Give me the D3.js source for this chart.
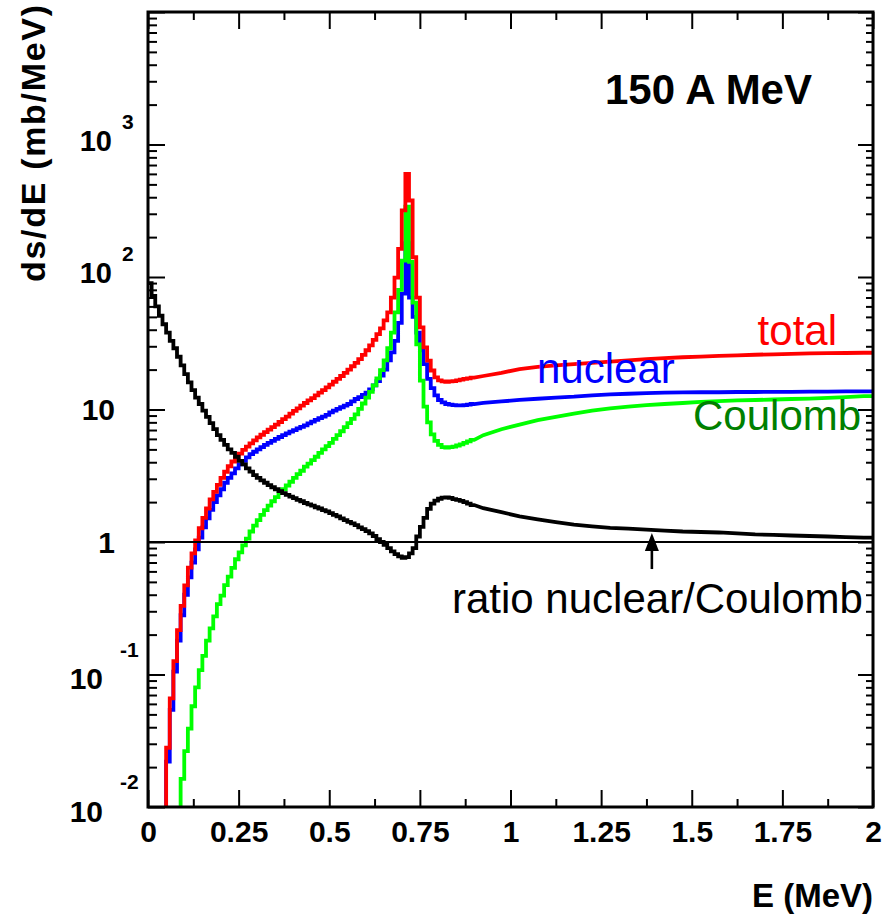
<!DOCTYPE html>
<html>
<head>
<meta charset="utf-8">
<script src="https://cdn.jsdelivr.net/npm/d3@7"></script>
<style>
  body { margin: 0; background: #fff; }
  svg text { font-family: "Liberation Sans", Arial, Helvetica, sans-serif; }
</style>
</head>
<body>
<div id="plot"></div>
<script>
// bin low edges (MeV): 0.01 wide up to 0.9, 0.05 wide above, last edge = 2
const edges = d3.range(0, 90).map(i => i / 100).concat(d3.range(18, 41).map(i => i / 20));
const nFine = 90; // bins drawn as steps, the rest as a smooth line

// ds/dE in mb/MeV, one value per bin (0 = empty bin)
const total = [
  0, 0, 0, 0, 0, 0.028, 0.066, 0.126, 0.216, 0.33,
  0.47, 0.64, 0.82, 1.03, 1.27, 1.52, 1.79, 2.1, 2.39, 2.7,
  3.05, 3.39, 3.73, 4.05, 4.35, 4.65, 4.95, 5.25, 5.55, 5.85,
  6.15, 6.45, 6.75, 7.05, 7.35, 7.7, 8.05, 8.45, 8.85, 9.3,
  9.75, 10.2, 10.7, 11.2, 11.7, 12.2, 12.8, 13.4, 14.0, 14.7,
  15.4, 16.2, 17.0, 17.9, 18.9, 20.0, 21.2, 22.5, 24.0, 25.8,
  28.0, 30.5, 33.5, 37, 41, 47, 54, 70, 99, 163,
  318, 600, 378, 141, 70, 41.7, 29.4, 23.4, 19.7, 17.5,
  16.6, 16.3, 16.2, 16.3, 16.4, 16.6, 16.8, 17.0, 17.2, 17.4,
  17.9, 18.9, 20.2, 21.0, 21.5, 22.0, 22.5, 23.0, 23.5, 24.0,
  24.4, 24.8, 25.1, 25.4, 25.6, 25.9, 26.1, 26.3, 26.5, 26.6,
  26.7, 26.8
];
const nuclear = [
  0, 0, 0, 0, 0, 0.022, 0.054, 0.105, 0.18, 0.28,
  0.40, 0.54, 0.70, 0.88, 1.08, 1.29, 1.51, 1.75, 2.0, 2.25,
  2.5, 2.8, 3.05, 3.3, 3.6, 3.85, 4.1, 4.35, 4.6, 4.8,
  5.0, 5.2, 5.4, 5.6, 5.8, 6.0, 6.2, 6.4, 6.6, 6.8,
  7.0, 7.2, 7.4, 7.6, 7.85, 8.1, 8.35, 8.6, 8.85, 9.1,
  9.5, 9.8, 10.1, 10.4, 10.7, 11.0, 11.5, 12.0, 12.4, 12.9,
  13.4, 14.2, 15.2, 16.4, 18, 20, 23.5, 27, 33, 45,
  75, 180, 70, 50, 38, 28, 22, 17, 14.5, 12.8,
  11.8, 11.3, 11.0, 10.9, 10.8, 10.75, 10.75, 10.8, 10.9, 11.0,
  11.2, 11.5, 11.8, 12.05, 12.3, 12.5, 12.8, 13.0, 13.15, 13.3,
  13.4, 13.45, 13.5, 13.5, 13.55, 13.55, 13.6, 13.6, 13.65, 13.65,
  13.7, 13.7
];
const coulomb = [
  0, 0, 0, 0, 0, 0, 0, 0, 0, 0.0163,
  0.0264, 0.039, 0.0576, 0.080, 0.108, 0.138, 0.18, 0.223, 0.275, 0.34,
  0.394, 0.472, 0.548, 0.637, 0.741, 0.836, 0.942, 1.06, 1.2, 1.33,
  1.46, 1.6, 1.74, 1.88, 2.03, 2.18, 2.34, 2.5, 2.67, 2.85,
  3.05, 3.25, 3.45, 3.7, 3.9, 4.15, 4.4, 4.7, 5.0, 5.3,
  5.6, 6.0, 6.4, 6.85, 7.35, 7.9, 8.5, 9.2, 10.1, 11.1,
  12.3, 13.6, 15.2, 17.2, 19.8, 23.5, 29, 38, 54, 80,
  133, 340, 130, 64, 31, 16.5, 10.5, 8, 6.5, 5.8,
  5.4, 5.2, 5.15, 5.2, 5.25, 5.35, 5.45, 5.6, 5.75, 5.9,
  6.4, 7.1, 7.7, 8.3, 8.8, 9.3, 9.8, 10.2, 10.5, 10.8,
  11.0, 11.2, 11.4, 11.55, 11.7, 11.8, 11.9, 12.0, 12.1, 12.25,
  12.4, 12.6
];
const ratio = [
  90, 72, 60, 51, 44, 38, 33, 29, 25, 21.5,
  18.5, 16, 14, 12.3, 11, 9.8, 8.8, 7.9, 7.1, 6.4,
  5.9, 5.4, 5.0, 4.7, 4.4, 4.1, 3.85, 3.6, 3.4, 3.2,
  3.05, 2.92, 2.8, 2.69, 2.59, 2.5, 2.42, 2.34, 2.27, 2.2,
  2.14, 2.08, 2.03, 1.97, 1.92, 1.88, 1.83, 1.79, 1.74, 1.7,
  1.65, 1.6, 1.56, 1.51, 1.46, 1.42, 1.38, 1.34, 1.29, 1.25,
  1.21, 1.16, 1.11, 1.05, 1.0, 0.95, 0.9, 0.85, 0.81, 0.78,
  0.76, 0.77, 0.82, 0.9, 1.1, 1.3, 1.52, 1.78, 1.95, 2.05,
  2.12, 2.16, 2.17, 2.15, 2.11, 2.08, 2.04, 2.0, 1.95, 1.9,
  1.8, 1.68, 1.56, 1.48, 1.41, 1.35, 1.31, 1.28, 1.26, 1.24,
  1.22, 1.2, 1.19, 1.18, 1.16, 1.14, 1.13, 1.12, 1.11, 1.1,
  1.09, 1.08
];

// axis ticks
const xMajor = [0, 0.25, 0.5, 0.75, 1, 1.25, 1.5, 1.75, 2];
const xLabels = ["0", "0.25", "0.5", "0.75", "1", "1.25", "1.5", "1.75", "2"];
const xMinor = [0.125, 0.375, 0.625, 0.875, 1.125, 1.375, 1.625, 1.875];
const yMajor = [1e-2, 1e-1, 1, 10, 100, 1000, 1e4];
const yLabels = [
  { v: 1e-2, base: "10", exp: "-2" },
  { v: 1e-1, base: "10", exp: "-1" },
  { v: 1, base: "1", exp: "" },
  { v: 10, base: "10", exp: "" },
  { v: 100, base: "10", exp: "2" },
  { v: 1000, base: "10", exp: "3" }
];

// arrow pointing at the ratio curve
const arrowE = 1.39, arrowTip = 1.17, arrowTail = 0.625;

const width = 895, height = 919;
const margin = { top: 12, right: 22, bottom: 112, left: 148 };
const W = width - margin.left - margin.right;
const H = height - margin.top - margin.bottom;

const svg = d3.select("#plot").append("svg")
  .attr("width", width)
  .attr("height", height);

svg.append("rect").attr("width", width).attr("height", height).attr("fill", "#fff");

const g = svg.append("g")
  .attr("transform", "translate(" + margin.left + "," + margin.top + ")");

const x = d3.scaleLinear().domain([0, 2]).range([0, W]);
const y = d3.scaleLog().domain([1e-2, 1e4]).range([H, 0]);

const yMinor = [];
for (let k = -2; k < 4; k++) for (let m = 2; m <= 9; m++) yMinor.push(m * Math.pow(10, k));

g.append("clipPath").attr("id", "clip")
  .append("rect").attr("width", W).attr("height", H);

// fine bins as histogram steps, wide tail bins through their centres
const stepLine = d3.line()
  .curve(d3.curveStepAfter)
  .x(d => x(d[0]))
  .y(d => y(Math.max(d[1], 1e-4)));
const smoothLine = d3.line()
  .x(d => x(d[0]))
  .y(d => y(d[1]));

function stepPoints(vals) {
  const p = vals.slice(0, nFine).map((v, i) => [edges[i], v]);
  p.push([edges[nFine], vals[nFine - 1]]);
  return p;
}
function tailPoints(vals) {
  const p = [[edges[nFine], vals[nFine - 1]]];
  for (let i = nFine; i < vals.length; i++) p.push([(edges[i] + edges[i + 1]) / 2, vals[i]]);
  p.push([edges[vals.length], vals[vals.length - 1]]);
  return p;
}

const curves = g.append("g").attr("clip-path", "url(#clip)");
[[nuclear, "#0000ff"], [coulomb, "#00ff00"], [total, "#ff0000"], [ratio, "#000000"]].forEach(s => {
  curves.append("path")
    .attr("d", stepLine(stepPoints(s[0])) + smoothLine(tailPoints(s[0])).replace(/^M/, "L"))
    .attr("fill", "none")
    .attr("stroke", s[1])
    .attr("stroke-width", 3.8)
    .attr("stroke-linejoin", "miter");
});

// reference line at 1
g.append("line")
  .attr("x1", 0).attr("x2", W)
  .attr("y1", y(1)).attr("y2", y(1))
  .attr("stroke", "#000").attr("stroke-width", 2.2);

// arrow
const ax = x(arrowE), tipY = y(arrowTip);
g.append("line")
  .attr("x1", ax).attr("x2", ax)
  .attr("y1", y(arrowTail)).attr("y2", tipY + 14)
  .attr("stroke", "#000").attr("stroke-width", 2.6);
g.append("path")
  .attr("d", "M" + ax + "," + tipY + "L" + (ax - 7) + "," + (tipY + 18) + "L" + (ax + 7) + "," + (tipY + 18) + "Z")
  .attr("fill", "#000");

// axes: ticks on all four sides, pointing inwards
function styleAxis(sel) {
  sel.select(".domain").remove();
  sel.selectAll(".tick line").attr("stroke", "#000").attr("stroke-width", 2);
}

g.append("g").attr("transform", "translate(0," + H + ")")
  .call(d3.axisBottom(x).tickValues(xMajor).tickSize(-17).tickPadding(14)
    .tickFormat((d, i) => xLabels[i]))
  .call(styleAxis)
  .selectAll("text")
  .attr("fill", "#000")
  .style("font-size", "30px")
  .style("font-weight", "bold");
g.append("g").attr("transform", "translate(0," + H + ")")
  .call(d3.axisBottom(x).tickValues(xMinor).tickSize(-8).tickFormat(""))
  .call(styleAxis);
g.append("g")
  .call(d3.axisTop(x).tickValues(xMajor).tickSize(-17).tickFormat(""))
  .call(styleAxis);
g.append("g")
  .call(d3.axisTop(x).tickValues(xMinor).tickSize(-8).tickFormat(""))
  .call(styleAxis);
g.append("g")
  .call(d3.axisLeft(y).tickValues(yMajor).tickSize(-17).tickFormat(""))
  .call(styleAxis);
g.append("g")
  .call(d3.axisLeft(y).tickValues(yMinor).tickSize(-9).tickFormat(""))
  .call(styleAxis);
g.append("g").attr("transform", "translate(" + W + ",0)")
  .call(d3.axisRight(y).tickValues(yMajor).tickSize(-15).tickFormat(""))
  .call(styleAxis);
g.append("g").attr("transform", "translate(" + W + ",0)")
  .call(d3.axisRight(y).tickValues(yMinor).tickSize(-7).tickFormat(""))
  .call(styleAxis);

// frame
g.append("rect")
  .attr("width", W).attr("height", H)
  .attr("fill", "none").attr("stroke", "#000").attr("stroke-width", 3);

// y tick labels, ROOT style powers of ten
const yl = g.append("g").attr("font-weight", "bold").attr("fill", "#000");
yLabels.forEach(d => {
  const ty = y(d.v);
  if (d.exp === "") {
    yl.append("text").attr("x", -33).attr("y", ty).attr("dy", "0.36em")
      .attr("text-anchor", "end").style("font-size", "30px").text(d.base);
  } else if (d.exp[0] === "-") {
    yl.append("text").attr("x", -45).attr("y", ty + 4).attr("dy", "0.36em")
      .attr("text-anchor", "end").style("font-size", "30px").text(d.base);
    yl.append("text").attr("x", -28).attr("y", ty - 18)
      .style("font-size", "21px").text(d.exp);
  } else {
    yl.append("text").attr("x", -36).attr("y", ty - 4).attr("dy", "0.36em")
      .attr("text-anchor", "end").style("font-size", "29px").text(d.base);
    yl.append("text").attr("x", -26).attr("y", ty - 16)
      .style("font-size", "21px").text(d.exp);
  }
});

// axis titles
svg.append("text")
  .attr("x", 873).attr("y", 907)
  .attr("text-anchor", "end")
  .style("font-size", "33px").style("font-weight", "bold")
  .text("E (MeV)");

svg.append("text")
  .attr("transform", "translate(45,282) rotate(-90)")
  .attr("textLength", 277).attr("lengthAdjust", "spacing")
  .style("font-size", "34px").style("font-weight", "bold")
  .text("ds/dE (mb/MeV)");

// labels
svg.append("text").attr("x", 605).attr("y", 104)
  .style("font-size", "42px").style("font-weight", "bold")
  .text("150 A MeV");
svg.append("text").attr("x", 837).attr("y", 345).attr("text-anchor", "end")
  .attr("fill", "#ff0000").style("font-size", "42px").text("total");
svg.append("text").attr("x", 537).attr("y", 383)
  .attr("fill", "#0000ff").style("font-size", "42px").text("nuclear");
svg.append("text").attr("x", 693).attr("y", 430)
  .attr("fill", "#008000").style("font-size", "42px").text("Coulomb");
svg.append("text").attr("x", 452).attr("y", 613)
  .attr("fill", "#000").style("font-size", "42px").text("ratio nuclear/Coulomb");
</script>
</body>
</html>
